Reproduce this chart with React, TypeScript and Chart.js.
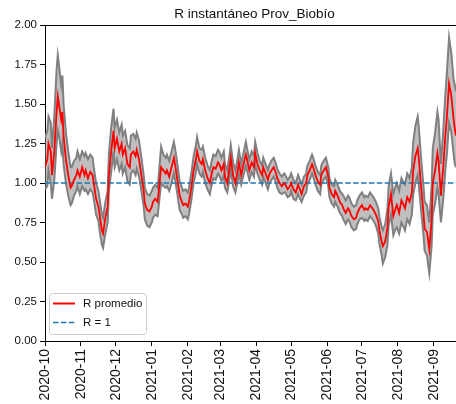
import React, { useEffect, useRef } from "react";
import { Chart, registerables } from "chart.js";

Chart.register(...registerables);

// Day offsets from 2020-10-01
const days = [
  0, 2, 3, 5, 6, 8, 10, 11, 12, 14, 15, 16, 18, 20, 22, 23, 25, 27, 28, 30,
  32, 34, 35, 37, 39, 41, 42, 44, 46, 47, 49, 50, 52, 54, 55, 57, 59, 60, 62, 64,
  66, 67, 69, 71, 73, 74, 76, 78, 79, 81, 83, 85, 86, 88, 90, 92, 93, 95, 97, 98,
  100, 102, 104, 105, 107, 109, 111, 112, 114, 116, 118, 119, 121, 123, 124, 126, 128, 130, 131, 133,
  135, 136, 138, 140, 142, 143, 145, 147, 149, 150, 152, 154, 155, 157, 159, 160, 162, 164, 166, 167,
  169, 171, 173, 174, 176, 178, 180, 181, 183, 185, 187, 188, 190, 192, 193, 195, 197, 199, 200, 202,
  204, 206, 207, 209, 211, 212, 214, 216, 218, 219, 221, 223, 225, 226, 228, 230, 231, 233, 235, 237,
  238, 240, 242, 244, 245, 247, 249, 250, 252, 254, 256, 257, 259, 261, 262, 264, 266, 268, 269, 271,
  273, 275, 276, 278, 280, 281, 283, 285, 287, 288, 290, 291, 293, 295, 296, 298, 300, 302, 303, 305,
  307, 309, 310, 312, 314, 316, 317, 319, 321, 322, 324, 326, 327, 329, 331, 333, 334, 336, 338, 339,
  341, 343, 345, 346, 348, 350, 352, 353, 354,
];

const rMean = [
  1.10, 1.15, 1.25, 1.20, 1.05, 1.20, 1.45, 1.55, 1.50, 1.40, 1.45, 1.30, 1.15, 1.05, 0.97, 0.98, 1.02, 1.05, 1.08, 1.04,
  1.10, 1.05, 1.08, 1.03, 1.07, 1.05, 1.00, 0.90, 0.85, 0.80, 0.70, 0.68, 0.78, 0.85, 1.05, 1.20, 1.33, 1.22, 1.28, 1.20,
  1.25, 1.18, 1.22, 1.12, 1.10, 1.18, 1.20, 1.17, 1.21, 1.15, 1.05, 0.95, 0.87, 0.83, 0.82, 0.85, 0.88, 0.90, 0.88, 0.95,
  1.10, 1.08, 1.06, 1.08, 1.04, 1.10, 1.16, 1.12, 1.02, 0.92, 0.88, 0.86, 0.87, 0.85, 0.88, 0.97, 1.08, 1.15, 1.20, 1.14,
  1.12, 1.15, 1.08, 1.03, 1.00, 1.04, 1.10, 1.09, 1.13, 1.12, 1.08, 1.12, 1.04, 1.00, 1.10, 1.16, 1.05, 1.00, 1.08, 1.13,
  1.05, 1.12, 1.18, 1.15, 1.08, 1.13, 1.10, 1.19, 1.12, 1.08, 1.05, 1.10, 1.06, 1.02, 1.05, 1.08, 1.10, 1.06, 1.03, 1.00,
  0.98, 1.00, 0.99, 0.96, 0.98, 1.00, 0.96, 0.94, 0.99, 0.97, 0.93, 0.98, 1.00, 1.05, 1.08, 1.12, 1.10, 1.05, 1.01, 0.99,
  1.05, 1.08, 1.10, 1.04, 0.97, 0.93, 0.91, 0.95, 0.92, 0.88, 0.86, 0.84, 0.81, 0.84, 0.83, 0.79, 0.77, 0.78, 0.81, 0.84,
  0.86, 0.83, 0.84, 0.83, 0.86, 0.85, 0.83, 0.80, 0.76, 0.70, 0.63, 0.60, 0.63, 0.72, 0.85, 0.93, 0.79, 0.84, 0.86, 0.81,
  0.89, 0.86, 0.84, 0.91, 0.88, 0.94, 1.07, 1.17, 1.22, 1.15, 0.97, 0.81, 0.71, 0.69, 0.58, 0.77, 1.00, 1.08, 1.19, 1.14,
  0.92, 1.10, 1.32, 1.40, 1.63, 1.55, 1.40, 1.34, 1.30,
];

const rLower = [
  0.96, 0.98, 1.08, 1.00, 0.90, 1.02, 1.25, 1.33, 1.30, 1.20, 1.25, 1.12, 1.00, 0.92, 0.86, 0.87, 0.92, 0.95, 0.98, 0.93,
  0.98, 0.95, 0.96, 0.93, 0.96, 0.94, 0.90, 0.80, 0.76, 0.70, 0.61, 0.59, 0.68, 0.75, 0.95, 1.07, 1.20, 1.10, 1.15, 1.08,
  1.12, 1.06, 1.10, 1.01, 0.99, 1.06, 1.08, 1.05, 1.09, 1.04, 0.95, 0.85, 0.77, 0.73, 0.72, 0.75, 0.78, 0.80, 0.79, 0.86,
  1.00, 0.98, 0.97, 0.98, 0.95, 1.00, 1.06, 1.02, 0.93, 0.83, 0.80, 0.78, 0.79, 0.77, 0.80, 0.89, 1.00, 1.07, 1.12, 1.06,
  1.04, 1.07, 1.00, 0.96, 0.93, 0.97, 1.03, 1.02, 1.06, 1.05, 1.01, 1.05, 0.97, 0.94, 1.03, 1.09, 0.98, 0.94, 1.01, 1.06,
  0.99, 1.05, 1.11, 1.08, 1.02, 1.07, 1.04, 1.12, 1.06, 1.02, 0.99, 1.04, 1.00, 0.96, 0.99, 1.02, 1.04, 1.00, 0.97, 0.94,
  0.93, 0.94, 0.94, 0.91, 0.92, 0.95, 0.90, 0.89, 0.93, 0.91, 0.88, 0.92, 0.94, 0.99, 1.02, 1.06, 1.04, 0.99, 0.95, 0.93,
  0.99, 1.02, 1.04, 0.98, 0.91, 0.87, 0.85, 0.88, 0.85, 0.81, 0.79, 0.77, 0.74, 0.77, 0.76, 0.72, 0.70, 0.71, 0.74, 0.77,
  0.78, 0.76, 0.77, 0.76, 0.79, 0.78, 0.76, 0.73, 0.68, 0.62, 0.54, 0.49, 0.53, 0.61, 0.73, 0.80, 0.67, 0.71, 0.72, 0.68,
  0.75, 0.72, 0.70, 0.77, 0.74, 0.80, 0.92, 1.00, 1.05, 0.98, 0.82, 0.67, 0.57, 0.54, 0.43, 0.60, 0.80, 0.87, 0.97, 0.93,
  0.75, 0.90, 1.10, 1.17, 1.38, 1.32, 1.18, 1.12, 1.10,
];

const rUpper = [
  1.29, 1.33, 1.42, 1.38, 1.22, 1.42, 1.72, 1.81, 1.75, 1.62, 1.68, 1.50, 1.32, 1.20, 1.10, 1.10, 1.14, 1.16, 1.20, 1.15,
  1.20, 1.17, 1.19, 1.15, 1.18, 1.16, 1.10, 1.00, 0.95, 0.90, 0.80, 0.78, 0.88, 0.95, 1.18, 1.35, 1.47, 1.35, 1.40, 1.32,
  1.37, 1.30, 1.33, 1.24, 1.22, 1.30, 1.31, 1.28, 1.32, 1.27, 1.16, 1.05, 0.97, 0.93, 0.92, 0.95, 0.97, 0.99, 0.97, 1.05,
  1.23, 1.18, 1.16, 1.18, 1.14, 1.20, 1.26, 1.22, 1.12, 1.01, 0.97, 0.95, 0.96, 0.94, 0.97, 1.06, 1.17, 1.24, 1.29, 1.22,
  1.21, 1.23, 1.16, 1.11, 1.08, 1.12, 1.18, 1.17, 1.21, 1.20, 1.16, 1.20, 1.12, 1.08, 1.18, 1.24, 1.13, 1.08, 1.16, 1.21,
  1.12, 1.19, 1.26, 1.22, 1.15, 1.20, 1.17, 1.26, 1.19, 1.14, 1.11, 1.16, 1.12, 1.08, 1.11, 1.14, 1.16, 1.12, 1.09, 1.06,
  1.04, 1.06, 1.05, 1.02, 1.04, 1.06, 1.02, 1.00, 1.05, 1.03, 0.99, 1.04, 1.06, 1.11, 1.14, 1.18, 1.16, 1.11, 1.07, 1.05,
  1.11, 1.14, 1.16, 1.10, 1.03, 0.99, 0.98, 1.02, 0.99, 0.95, 0.93, 0.92, 0.89, 0.92, 0.91, 0.87, 0.85, 0.86, 0.89, 0.92,
  0.94, 0.91, 0.92, 0.91, 0.94, 0.93, 0.91, 0.88, 0.84, 0.79, 0.72, 0.70, 0.74, 0.84, 0.98, 1.06, 0.93, 0.98, 1.00, 0.95,
  1.03, 1.00, 0.99, 1.06, 1.03, 1.10, 1.25, 1.36, 1.42, 1.35, 1.15, 0.98, 0.88, 0.86, 0.75, 0.98, 1.22, 1.32, 1.45, 1.40,
  1.12, 1.33, 1.58, 1.68, 1.92, 1.82, 1.65, 1.62, 1.58,
];

const monthTickDays = [0, 31, 61, 92, 123, 151, 182, 212, 243, 273, 304, 335];
const monthTickLabels = [
  "2020-10", "2020-11", "2020-12", "2021-01", "2021-02", "2021-03",
  "2021-04", "2021-05", "2021-06", "2021-07", "2021-08", "2021-09",
];
const yTickValues = [0, 0.25, 0.5, 0.75, 1.0, 1.25, 1.5, 1.75, 2.0];
const referenceR = 1;

const titleText = "R instantáneo Prov_Biobío";
const legendLabels = ["R promedio", "R = 1"];

const FONT = "'Liberation Sans', Arial, sans-serif";

export default function App() {
  const canvasRef = useRef<HTMLCanvasElement | null>(null);

  useEffect(() => {
    const canvas = canvasRef.current;
    if (!canvas) return;

    const decorPlugin = {
      id: "decor",
      afterDraw(chart: any) {
        const { ctx, chartArea } = chart;
        ctx.save();
        // top spine
        ctx.strokeStyle = "#000";
        ctx.lineWidth = 1;
        ctx.beginPath();
        ctx.moveTo(chartArea.left, chartArea.top + 0.5);
        ctx.lineTo(chartArea.right, chartArea.top + 0.5);
        ctx.stroke();
        // title
        ctx.fillStyle = "#111";
        ctx.font = `13.5px ${FONT}`;
        ctx.textAlign = "center";
        ctx.textBaseline = "alphabetic";
        ctx.fillText(titleText, chartArea.left + 209.5, 18);
        // legend
        const bx = chartArea.left + 4.5;
        const by = chartArea.bottom - 47.5;
        const bw = 97;
        const bh = 41;
        const r = 3;
        ctx.beginPath();
        ctx.moveTo(bx + r, by);
        ctx.lineTo(bx + bw - r, by);
        ctx.arcTo(bx + bw, by, bx + bw, by + r, r);
        ctx.lineTo(bx + bw, by + bh - r);
        ctx.arcTo(bx + bw, by + bh, bx + bw - r, by + bh, r);
        ctx.lineTo(bx + r, by + bh);
        ctx.arcTo(bx, by + bh, bx, by + bh - r, r);
        ctx.lineTo(bx, by + r);
        ctx.arcTo(bx, by, bx + r, by, r);
        ctx.closePath();
        ctx.fillStyle = "rgba(255,255,255,0.8)";
        ctx.fill();
        ctx.strokeStyle = "#cccccc";
        ctx.lineWidth = 1;
        ctx.stroke();

        const row1 = by + 10;
        const row2 = by + 29;
        ctx.strokeStyle = "#ff0000";
        ctx.lineWidth = 2;
        ctx.beginPath();
        ctx.moveTo(bx + 3.5, row1);
        ctx.lineTo(bx + 25.5, row1);
        ctx.stroke();
        ctx.strokeStyle = "#1f77b4";
        ctx.lineWidth = 1.5;
        ctx.setLineDash([5.5, 2.4]);
        ctx.beginPath();
        ctx.moveTo(bx + 3.5, row2);
        ctx.lineTo(bx + 25.5, row2);
        ctx.stroke();
        ctx.setLineDash([]);
        ctx.fillStyle = "#111";
        ctx.font = `11.5px ${FONT}`;
        ctx.textAlign = "left";
        ctx.textBaseline = "middle";
        ctx.fillText(legendLabels[0], bx + 33.5, row1);
        ctx.fillText(legendLabels[1], bx + 33.5, row2);
        ctx.restore();
      },
    };

    const pts = (vals: number[]) => days.map((d, i) => ({ x: d, y: vals[i] }));
    const xMin = days[0];
    const xMax = days[days.length - 1];

    const chart = new Chart(canvas, {
      type: "line",
      data: {
        datasets: [
          {
            label: "upper",
            data: pts(rUpper),
            borderColor: "#808080",
            borderWidth: 2,
            pointRadius: 0,
            fill: "+1",
            backgroundColor: "rgba(128,128,128,0.5)",
            order: 2,
          },
          {
            label: "lower",
            data: pts(rLower),
            borderColor: "#808080",
            borderWidth: 2,
            pointRadius: 0,
            fill: false,
            order: 3,
          },
          {
            label: legendLabels[0],
            data: pts(rMean),
            borderColor: "#ff0000",
            borderWidth: 1.8,
            pointRadius: 0,
            fill: false,
            order: 0,
          },
          {
            label: legendLabels[1],
            data: [
              { x: xMin, y: referenceR },
              { x: xMax, y: referenceR },
            ],
            borderColor: "#1f77b4",
            borderWidth: 1.5,
            borderDash: [5.5, 2.4],
            pointRadius: 0,
            fill: false,
            order: 1,
          },
        ],
      } as any,
      options: {
        responsive: false,
        animation: false,
        events: [],
        layout: { padding: { top: 25, right: 0, left: 0, bottom: 0 } },
        plugins: {
          legend: { display: false },
          title: { display: false },
          tooltip: { enabled: false },
          filler: { drawTime: "beforeDatasetsDraw" },
        } as any,
        scales: {
          x: {
            type: "linear",
            min: xMin,
            max: xMax,
            afterBuildTicks: (scale: any) => {
              scale.ticks = monthTickDays.map((v) => ({ value: v }));
            },
            afterFit: (scale: any) => {
              scale.height = 63;
              scale.paddingLeft = 0;
              scale.paddingRight = 0;
            },
            ticks: {
              autoSkip: false,
              minRotation: 90,
              maxRotation: 90,
              padding: 3,
              color: "#111",
              font: { family: FONT, size: 14 },
              callback: (value: any) => {
                const idx = monthTickDays.indexOf(Number(value));
                return idx >= 0 ? monthTickLabels[idx] : "";
              },
            },
            grid: {
              display: true,
              drawOnChartArea: false,
              drawTicks: true,
              tickLength: 5,
              color: "#000",
            },
            border: { display: true, color: "#000", width: 1 },
          },
          y: {
            type: "linear",
            min: yTickValues[0],
            max: yTickValues[yTickValues.length - 1],
            afterBuildTicks: (scale: any) => {
              scale.ticks = yTickValues.map((v) => ({ value: v }));
            },
            afterFit: (scale: any) => {
              scale.width = 45;
            },
            ticks: {
              padding: 3,
              color: "#111",
              font: { family: FONT, size: 11.5 },
              callback: (value: any) => Number(value).toFixed(2),
            },
            grid: {
              display: true,
              drawOnChartArea: false,
              drawTicks: true,
              tickLength: 5,
              color: "#000",
            },
            border: { display: true, color: "#000", width: 1 },
          },
        },
      } as any,
      plugins: [decorPlugin],
    });

    return () => {
      chart.destroy();
    };
  }, []);

  return (
    <div style={{ position: "absolute", left: 0, top: 0, width: 456, height: 404, background: "#fff" }}>
      <canvas ref={canvasRef} width={456} height={404} style={{ display: "block", width: 456, height: 404 }} />
    </div>
  );
}
